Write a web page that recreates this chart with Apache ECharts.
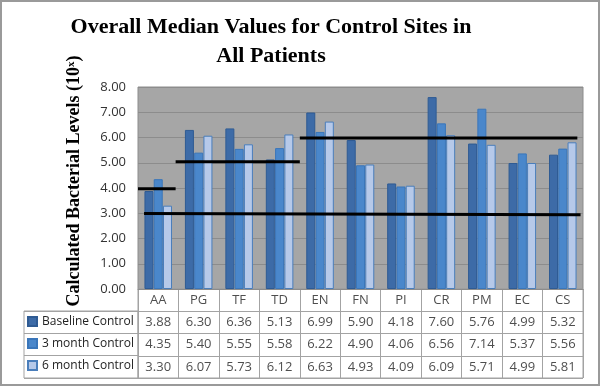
<!DOCTYPE html>
<html>
<head>
<meta charset="utf-8">
<script src="https://cdn.jsdelivr.net/npm/echarts@6/dist/echarts.min.js"></script>
<style>html,body{margin:0;padding:0;background:#fff}#c{width:600px;height:386px}</style>
</head>
<body>
<div id="c"></div>
<script>
const categories = ['AA','PG','TF','TD','EN','FN','PI','CR','PM','EC','CS'];
const seriesNames = ['Baseline Control','3 month Control','6 month Control'];
const baseline = [3.88,6.30,6.36,5.13,6.99,5.90,4.18,7.60,5.76,4.99,5.32];
const month3 = [4.35,5.40,5.55,5.58,6.22,4.90,4.06,6.56,7.14,5.37,5.56];
const month6 = [3.30,6.07,5.73,6.12,6.63,4.93,4.09,6.09,5.71,4.99,5.81];
const yTicks = [0,1,2,3,4,5,6,7,8];
// hand-drawn black reference lines: [x (category units from left), value]
const refLine1 = [[0,3.97],[0.93,3.97]];
const refLine2 = [[0.93,5.04],[4.0,5.04]];
const refLine3 = [[4.0,5.98],[10.86,5.98]];
const refLine4 = [[0.15,2.99],[10.94,2.94]];

const colors = ['#3d6ba7','#4a87cb','#b6c9e9'];
const borders = ['#2f5b93','#3a76ba','#4a7ebb'];
const allVals = [baseline, month3, month6];
const font = 'Open Sans';

const chart = echarts.init(document.getElementById('c'), null, {renderer:'canvas'});

const tableData = [];
categories.forEach((c,i)=>{
  tableData.push([i,0,c]);
  allVals.forEach((arr,k)=>tableData.push([i,k+1,arr[i].toFixed(2)]));
});

const option = {
  animation:false,
  color: colors,
  title:{
    text:'Overall Median Values for Control Sites in\nAll Patients',
    left:266, top:8, textAlign:'center',
    textStyle:{fontFamily:'Liberation Serif',fontWeight:'bold',fontSize:22,lineHeight:29,color:'#000'}
  },
  legend:{
    data:seriesNames, orient:'vertical', left:27, top:315, padding:0,
    itemWidth:9, itemHeight:9, itemGap:9, icon:'rect', selectedMode:false,
    textStyle:{fontFamily:font,fontSize:12,lineHeight:13,color:'#222'}
  },
  graphic:[{type:'rect',shape:{x:1,y:1,width:598,height:384},style:{fill:'none',stroke:'#9a9a9a',lineWidth:2},silent:true}],
  grid:[
    {left:138, top:87, width:445, height:202, show:true, backgroundColor:'#a6a6a6', borderColor:'#8c8c8c', borderWidth:1},
    {left:138, top:289, width:445, height:89, show:true, borderColor:'#a3a3a3', borderWidth:1},
    {left:24, top:311, width:114, height:67, show:true, borderColor:'#a3a3a3', borderWidth:1}
  ],
  xAxis:[
    {type:'category', data:categories, gridIndex:0, axisLabel:{show:false}, axisTick:{show:false}, axisLine:{show:true,lineStyle:{color:'#8c8c8c'}}},
    {type:'value', gridIndex:0, min:0, max:11, show:false},
    {type:'category', data:categories, gridIndex:1, axisLabel:{show:false}, axisTick:{show:false}, axisLine:{show:false}, splitLine:{show:true,lineStyle:{color:'#a3a3a3'}}},
    {type:'value', gridIndex:2, min:0, max:1, show:false}
  ],
  yAxis:[
    {type:'value', gridIndex:0, min:0, max:8, interval:1,
     name:'{g|}{n|Calculated Bacterial Levels (10}{s|x}{n|)}', nameLocation:'middle', nameGap:55, nameRotate:90,
     nameTextStyle:{rich:{g:{width:14},
                          n:{fontFamily:'Liberation Serif',fontWeight:'bold',fontSize:18,color:'#000'},
                          s:{fontFamily:'Liberation Serif',fontWeight:'bold',fontSize:11,color:'#000',padding:[0,0,6,0]}}},
     axisLabel:{formatter:v=>v.toFixed(2), fontFamily:font, fontSize:13, color:'#333', margin:12},
     axisLine:{show:false}, axisTick:{show:false},
     splitLine:{show:true,lineStyle:{color:'#8c8c8c'}}},
    {type:'category', gridIndex:1, data:['c','b','m3','m6'], inverse:true, show:true,
     axisLabel:{show:false}, axisTick:{show:false}, axisLine:{show:false}, splitLine:{show:true,lineStyle:{color:'#a3a3a3'}}},
    {type:'category', gridIndex:2, data:['b','m3','m6'], inverse:true,
     axisLabel:{show:false}, axisTick:{show:false}, axisLine:{show:false}, splitLine:{show:true,lineStyle:{color:'#a3a3a3'}}}
  ],
  series:[
    ...seriesNames.map((n,k)=>({
      name:n, type:'bar', xAxisIndex:0, yAxisIndex:0, data:allVals[k],
      barWidth:9, barGap:'3%',
      itemStyle:{color:colors[k], borderColor:borders[k], borderWidth:1}
    })),
    ...[refLine1,refLine2,refLine3,refLine4].map(d=>({
      type:'line', xAxisIndex:1, yAxisIndex:0, data:d, symbol:'none', silent:true,
      lineStyle:{color:'#000',width:3}, z:10
    })),
    {type:'scatter', xAxisIndex:2, yAxisIndex:1, data:tableData, symbolSize:0, silent:true,
     label:{show:true, position:'inside', formatter:p=>p.data[2], fontFamily:font, fontSize:13, color:'#222'}}
  ]
};
chart.setOption(option);
</script>
</body>
</html>
